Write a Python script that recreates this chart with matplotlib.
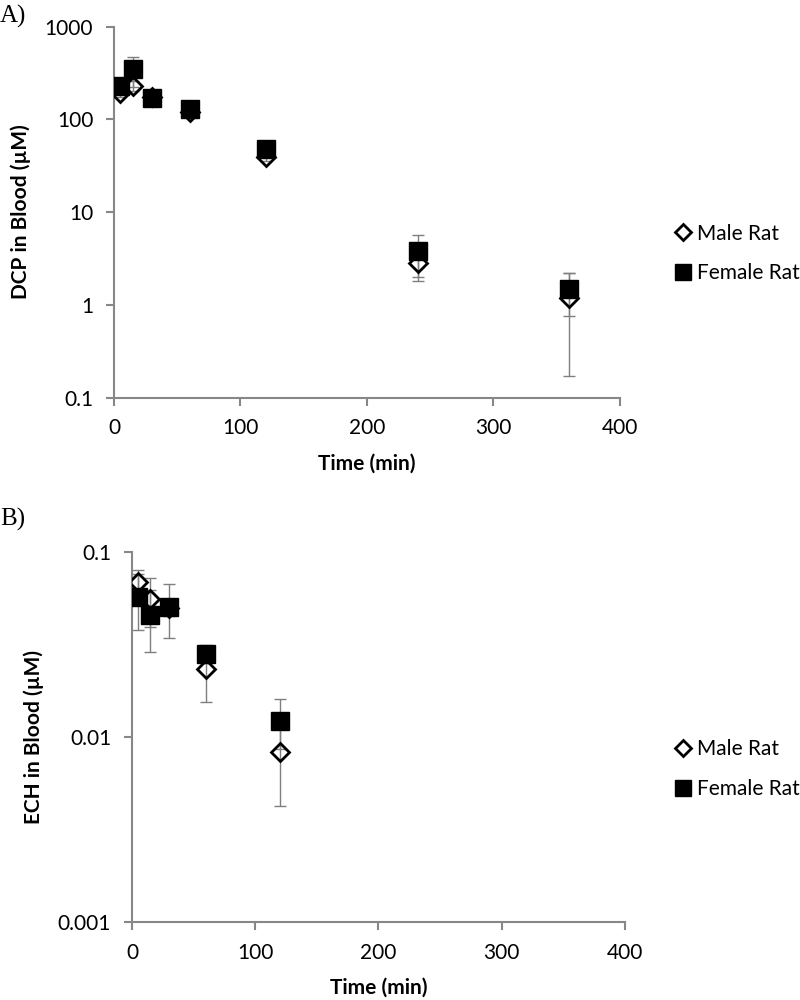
import matplotlib
matplotlib.use("Agg")
import matplotlib.pyplot as plt
from matplotlib.ticker import FixedLocator, FuncFormatter, NullLocator

plt.rcParams["font.family"] = ["Lato", "DejaVu Sans"]

# Panel A: DCP in blood
time_a = [5, 15, 30, 60, 120, 240, 360]
male_a = [193, 230, 175, 120, 39.5, 2.84, 1.19]
male_a_err = [20, 30, 15, 10, 4, 1.04, 1.02]
female_a = [229, 349, 169, 131, 47.5, 3.82, 1.47]
female_a_err = [40, 124, 20, 15, 5, 1.83, 0.72]

# Panel B: ECH in blood
time_b = [5, 15, 30, 60, 120]
male_b = [0.0687, 0.0558, 0.050, 0.0234, 0.00836]
male_b_err = [0.012, 0.0165, 0.005, 0.008, 0.0041]
female_b = [0.057, 0.0459, 0.0507, 0.0283, 0.0123]
female_b_err = [0.019, 0.017, 0.0165, 0.003, 0.0037]

x_ticks = [0, 100, 200, 300, 400]
ticks_a = [0.1, 1, 10, 100, 1000]
ticks_b = [0.001, 0.01, 0.1]

AXIS_GREY = "#878787"
ERR_GREY = "#7f7f7f"
FS = 15


def draw_panel(ax, t, male, male_err, female, female_err, yticks, ylabel, male_on_top):
    ax.errorbar(t, male, yerr=male_err, fmt="none", ecolor=ERR_GREY,
                elinewidth=1.0, capsize=4, capthick=1.0, zorder=2)
    ax.errorbar(t, female, yerr=female_err, fmt="none", ecolor=ERR_GREY,
                elinewidth=1.0, capsize=4, capthick=1.0, zorder=2)
    zm, zf = (5, 4) if male_on_top else (4, 5)
    ax.plot(t, male, linestyle="none", marker="D", markersize=9,
            markerfacecolor="none", markeredgecolor="black", markeredgewidth=2,
            label="Male Rat", zorder=zm)
    ax.plot(t, female, linestyle="none", marker="s", markersize=13,
            markerfacecolor="black", markeredgecolor="black",
            label="Female Rat", zorder=zf)

    ax.set_yscale("log")
    ax.set_ylim(yticks[0], yticks[-1])
    ax.set_xlim(0, 400)
    ax.yaxis.set_major_locator(FixedLocator(yticks))
    ax.yaxis.set_minor_locator(NullLocator())
    ax.yaxis.set_major_formatter(FuncFormatter(lambda v, p: f"{v:g}"))
    ax.xaxis.set_major_locator(FixedLocator(x_ticks))

    for side in ("top", "right"):
        ax.spines[side].set_visible(False)
    for side in ("left", "bottom"):
        ax.spines[side].set_color(AXIS_GREY)
        ax.spines[side].set_linewidth(1.5)
    ax.tick_params(direction="out", length=6, width=1.5, color=AXIS_GREY,
                   labelsize=FS, pad=9)

    ax.set_xlabel("Time (min)", fontsize=FS, fontweight="bold", labelpad=11)
    ax.set_ylabel(ylabel, fontsize=FS, fontweight="bold", labelpad=10)


fig = plt.figure(figsize=(8, 10), dpi=100)

ax_a = fig.add_axes([0.1425, 0.6025, 0.6325, 0.3708])
draw_panel(ax_a, time_a, male_a, male_a_err, female_a, female_a_err,
           ticks_a, "DCP in Blood (µM)", male_on_top=False)

ax_b = fig.add_axes([0.165, 0.078, 0.616, 0.3697])
draw_panel(ax_b, time_b, male_b, male_b_err, female_b, female_b_err,
           ticks_b, "ECH in Blood (µM)", male_on_top=True)

for ax, y in ((ax_a, 0.7465), (ax_b, 0.2310)):
    ax.legend(loc="center left", bbox_to_anchor=(0.843, y), bbox_transform=fig.transFigure,
              frameon=False, fontsize=FS, handlelength=0.8, handletextpad=0.3,
              labelspacing=0.95, borderpad=0, borderaxespad=0, markerscale=0.85)

fig.text(0.0, 0.984, "A)", fontsize=18, family="Liberation Serif", va="center")
fig.text(0.0, 0.481, "B)", fontsize=18, family="Liberation Serif", va="center")

fig.savefig("out.png", dpi=100)
